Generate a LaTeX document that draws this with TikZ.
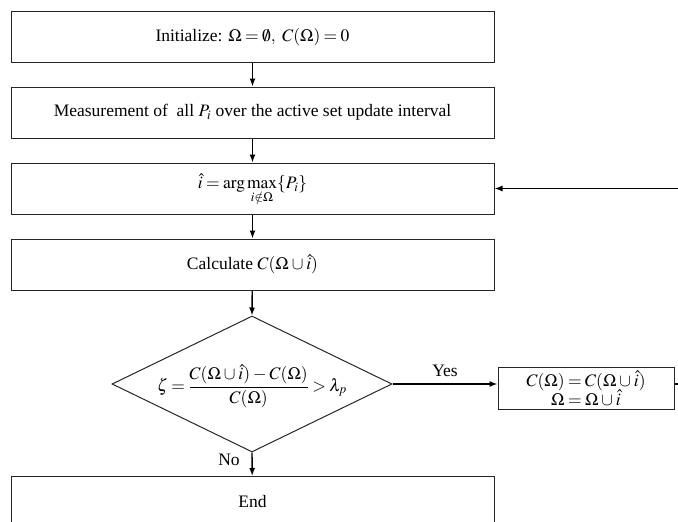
\documentclass[tikz,border=0pt]{standalone}
\usepackage{mathptmx}
\usepackage{fontspec}
\setmainfont{Liberation Serif}
\usetikzlibrary{arrows.meta,shapes.geometric}
\thickmuskip=3.5mu plus 2mu
\medmuskip=3mu plus 1mu minus 2mu
\begin{document}
\begin{tikzpicture}[x=1pt,y=-1pt,
  font=\fontsize{17.5}{20}\selectfont,
  box/.style={draw=black!85, line width=1pt, minimum width=483pt, minimum height=51pt, inner sep=0pt},
  conn/.style={line width=1.4pt, -{Latex[length=8pt,width=6pt]}},
  plain/.style={line width=1.4pt}]
\clip (0,0) rectangle (678,522);
\node[box] (init) at (252.5,37) {Initialize: $\Omega=\emptyset,\ C(\Omega)=0$};
\node[box] (meas) at (252.5,112.5) {Measurement of\ \ all $P_i$ over the active set update interval};
\node[box] (sel) at (252.5,188.5) {$\hat{i}=\arg\max\limits_{i\notin\Omega}\{P_i\}$};
\node[box] (calc) at (252.5,264.5) {Calculate $C(\Omega\cup\hat{i})$};
\node[diamond, draw=black!85, line width=1pt, minimum width=280pt, minimum height=136pt, inner sep=0pt] (dec) at (252,384) {};
\node (cond) at (252,386) {$\zeta=\displaystyle\frac{C(\Omega\cup\hat{i})-C(\Omega)}{C(\Omega)}>\lambda_p$};
\node[box] (end) at (252.5,502) {End};
\node[draw=black!85, line width=1pt, minimum width=176pt, minimum height=42pt, inner sep=0pt, align=center] (upd) at (586,388)
  {$C(\Omega)=C(\Omega\cup\hat{i})$\\[-1pt] $\Omega=\Omega\cup\hat{i}$};
\coordinate (fb) at (690,188.5);
\coordinate (ex) at (690,384);
\draw[conn] (init) -- (meas);
\draw[conn] (meas) -- (sel);
\draw[conn] (sel) -- (calc);
\draw[conn] (calc) -- (dec.north);
\draw[conn] (dec.south) -- (end);
\draw[conn] (dec.east) -- (dec.east -| upd.west) node[pos=0.5, above=3pt] (yes) {Yes};
\draw[plain] (dec.east -| upd.east) -- (ex);
\draw[conn] (fb) -- (sel.east);
\node (no) at (229,460) {No};
\end{tikzpicture}
\end{document}
